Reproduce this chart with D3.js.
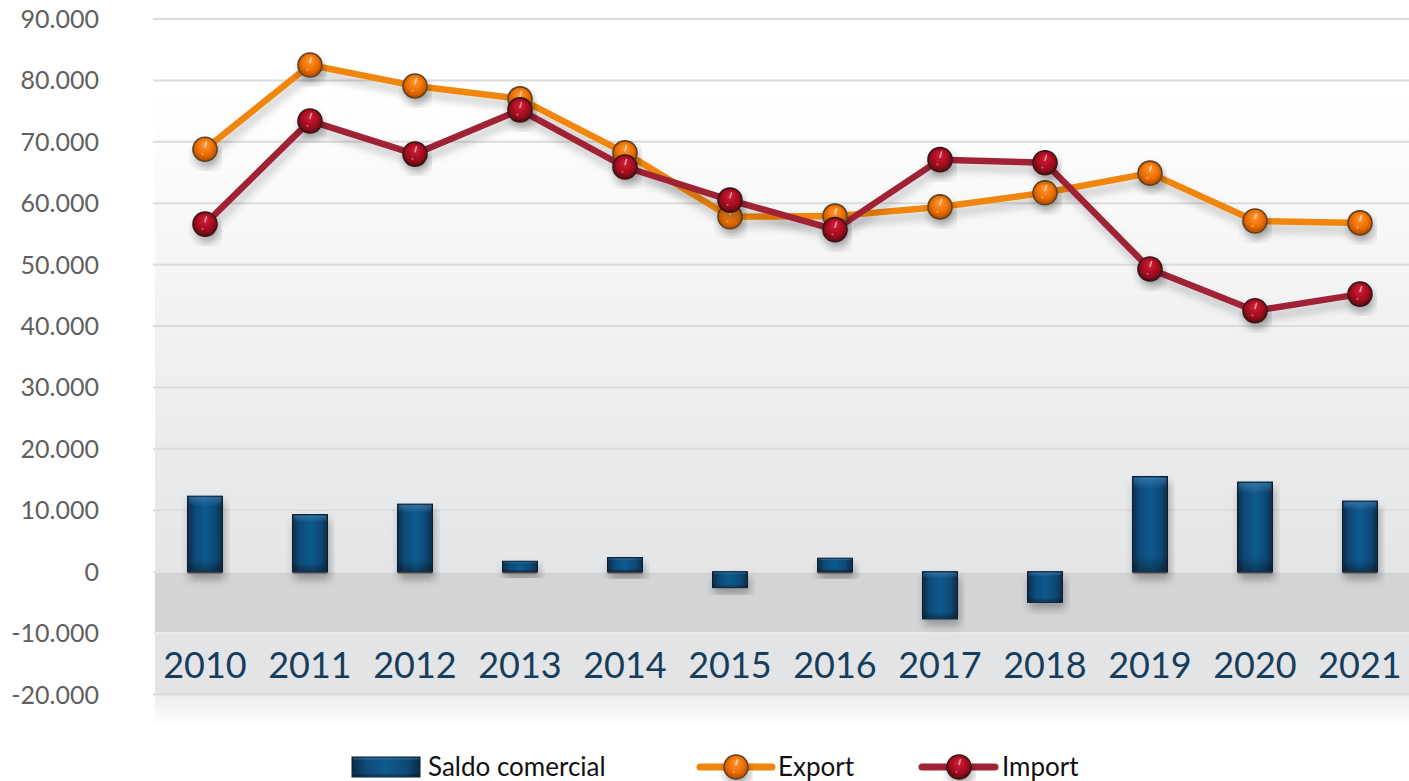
<!DOCTYPE html>
<html>
<head>
<meta charset="utf-8">
<script src="https://cdn.jsdelivr.net/npm/d3@7/dist/d3.min.js"></script>
<style>
  html, body { margin: 0; padding: 0; background: #ffffff; }
  svg { display: block; }
</style>
</head>
<body>
<div id="chart"></div>
<script>
// --- data ---
const years = ["2010", "2011", "2012", "2013", "2014", "2015", "2016", "2017", "2018", "2019", "2020", "2021"];
const exportValues = [68800, 82500, 79100, 77000, 68200, 57800, 57900, 59400, 61700, 64900, 57100, 56800];
const importValues = [56600, 73400, 68000, 75200, 65900, 60500, 55700, 67100, 66600, 49300, 42500, 45200];
const saldoValues = [12300, 9300, 11000, 1700, 2300, -2600, 2200, -7700, -5000, 15500, 14600, 11500];
const yTicks = [-20000, -10000, 0, 10000, 20000, 30000, 40000, 50000, 60000, 70000, 80000, 90000];

const width = 1409, height = 781;
const panelLeft = 155, panelRight = 1409;

const svg = d3.select("#chart").append("svg")
  .attr("width", width)
  .attr("height", height);

const defs = svg.append("defs");

// scales
const x = d3.scaleBand().domain(years).range([152.5, 1412.5]);
const y = d3.scaleLinear().domain([-20000, 90000]).range([694.5, 19]);

const it = d3.formatLocale({ decimal: ",", thousands: ".", grouping: [3], currency: ["", ""], minus: "-" });
const fmt = it.format(",d");

// --- gradients / filters ---
const panelGrad = defs.append("linearGradient").attr("id", "panel-grad")
  .attr("x1", 0).attr("y1", 0).attr("x2", 0).attr("y2", 1);
panelGrad.append("stop").attr("offset", "0%").attr("stop-color", "#ffffff");
panelGrad.append("stop").attr("offset", "45%").attr("stop-color", "#f1f2f3");
panelGrad.append("stop").attr("offset", "100%").attr("stop-color", "#e4e5e7");

const fadeGrad = defs.append("linearGradient").attr("id", "fade-grad")
  .attr("x1", 0).attr("y1", 0).attr("x2", 0).attr("y2", 1);
fadeGrad.append("stop").attr("offset", "0%").attr("stop-color", "#ececed");
fadeGrad.append("stop").attr("offset", "100%").attr("stop-color", "#ffffff");

const barGrad = defs.append("linearGradient").attr("id", "bar-grad")
  .attr("x1", 0).attr("y1", 0).attr("x2", 1).attr("y2", 0);
barGrad.append("stop").attr("offset", "0%").attr("stop-color", "#0b2b47");
barGrad.append("stop").attr("offset", "20%").attr("stop-color", "#0e4a78");
barGrad.append("stop").attr("offset", "50%").attr("stop-color", "#115a8e");
barGrad.append("stop").attr("offset", "80%").attr("stop-color", "#0e4a78");
barGrad.append("stop").attr("offset", "100%").attr("stop-color", "#0b2b47");

const barShade = defs.append("linearGradient").attr("id", "bar-shade")
  .attr("x1", 0).attr("y1", 0).attr("x2", 0).attr("y2", 1);
barShade.append("stop").attr("offset", "0%").attr("stop-color", "#4a8cc0").attr("stop-opacity", 0.55);
barShade.append("stop").attr("offset", "12%").attr("stop-color", "#4a8cc0").attr("stop-opacity", 0);
barShade.append("stop").attr("offset", "85%").attr("stop-color", "#000000").attr("stop-opacity", 0);
barShade.append("stop").attr("offset", "100%").attr("stop-color", "#000000").attr("stop-opacity", 0.35);

function ballGradient(id, light, mid, dark) {
  const g = defs.append("radialGradient").attr("id", id)
    .attr("cx", "50%").attr("cy", "45%").attr("r", "58%").attr("fx", "50%").attr("fy", "30%");
  g.append("stop").attr("offset", "0%").attr("stop-color", light);
  g.append("stop").attr("offset", "60%").attr("stop-color", mid);
  g.append("stop").attr("offset", "100%").attr("stop-color", dark);
}
ballGradient("ball-orange", "#ff9a3a", "#ec6e00", "#a84600");
ballGradient("ball-red", "#d42238", "#a50a20", "#55050f");

const shadow = defs.append("filter").attr("id", "drop")
  .attr("x", "-20%").attr("y", "-20%").attr("width", "140%").attr("height", "160%");
shadow.append("feDropShadow").attr("dx", 2).attr("dy", 6).attr("stdDeviation", 4)
  .attr("flood-color", "#000000").attr("flood-opacity", 0.3);

const lineShadow = defs.append("filter").attr("id", "line-drop")
  .attr("x", "-5%").attr("y", "-20%").attr("width", "110%").attr("height", "140%");
lineShadow.append("feDropShadow").attr("dx", 2).attr("dy", 7).attr("stdDeviation", 4)
  .attr("flood-color", "#000000").attr("flood-opacity", 0.22);

// --- background panel ---
svg.append("rect")
  .attr("x", panelLeft).attr("y", 100)
  .attr("width", panelRight - panelLeft).attr("height", y(0) - 100)
  .attr("fill", "url(#panel-grad)");
svg.append("rect")
  .attr("x", panelLeft).attr("y", y(0))
  .attr("width", panelRight - panelLeft).attr("height", y(-10000) - y(0))
  .attr("fill", "#d3d4d6");
svg.append("rect")
  .attr("x", panelLeft).attr("y", y(-10000))
  .attr("width", panelRight - panelLeft).attr("height", y(-20000) - y(-10000))
  .attr("fill", "#e3e4e6");
svg.append("rect")
  .attr("x", panelLeft).attr("y", y(-20000))
  .attr("width", panelRight - panelLeft).attr("height", 32)
  .attr("fill", "url(#fade-grad)");

// --- gridlines + y labels ---
svg.append("g").selectAll("line").data(yTicks).join("line")
  .attr("x1", 153).attr("x2", panelRight)
  .attr("y1", d => y(d)).attr("y2", d => y(d))
  .attr("stroke", d => d === -10000 ? "#e9eaeb" : (d === 0 ? "#e2e3e4" : "#dcdcdd"))
  .attr("stroke-width", 2);

svg.append("g").selectAll("text").data(yTicks).join("text")
  .attr("x", 99)
  .attr("y", d => y(d))
  .attr("dy", "0.36em")
  .attr("text-anchor", "end")
  .style("font-family", "Lato, sans-serif")
  .style("font-size", "25px")
  .style("fill", "#606060")
  .text(d => fmt(d));

// --- category labels ---
svg.append("g").selectAll("text").data(years).join("text")
  .attr("x", d => x(d) + x.bandwidth() / 2)
  .attr("y", 678)
  .attr("text-anchor", "middle")
  .style("font-family", "Lato, sans-serif")
  .style("font-size", "36px")
  .style("fill", "#163e5c")
  .text(d => d);

// --- bars (saldo comercial) ---
const barW = 35;
const bars = svg.append("g");
years.forEach((yr, i) => {
  const v = saldoValues[i];
  const bx = x(yr) + x.bandwidth() / 2 - barW / 2;
  const by = Math.min(y(v), y(0));
  const bh = Math.abs(y(v) - y(0));
  const g = bars.append("g").attr("filter", "url(#drop)");
  g.append("rect").attr("x", bx).attr("y", by).attr("width", barW).attr("height", bh)
    .attr("fill", "url(#bar-grad)").attr("stroke", "#0a1e30").attr("stroke-width", 1);
  g.append("rect").attr("x", bx + 1).attr("y", by + 1).attr("width", barW - 2).attr("height", Math.max(bh - 2, 0))
    .attr("fill", "url(#bar-shade)");
  if (v > 0) {
    g.append("line").attr("x1", bx).attr("x2", bx + barW)
      .attr("y1", y(0) + 1).attr("y2", y(0) + 1)
      .attr("stroke", "#444").attr("stroke-width", 1.5);
  }
});

// --- lines ---
const line = d3.line()
  .x((d, i) => x(years[i]) + x.bandwidth() / 2)
  .y(d => y(d));

svg.append("path").datum(exportValues)
  .attr("d", line)
  .attr("fill", "none").attr("stroke", "#f0860e").attr("stroke-width", 6.5)
  .attr("stroke-linejoin", "round")
  .attr("filter", "url(#line-drop)");

svg.append("path").datum(importValues)
  .attr("d", line)
  .attr("fill", "none").attr("stroke", "#9f2236").attr("stroke-width", 6.5)
  .attr("stroke-linejoin", "round")
  .attr("filter", "url(#line-drop)");

// marker helper
function drawBall(parent, cx, cy, r, grad, border) {
  const g = parent.append("g").attr("filter", "url(#drop)");
  g.append("circle").attr("cx", cx).attr("cy", cy).attr("r", r)
    .attr("fill", "url(#" + grad + ")").attr("stroke", border).attr("stroke-width", 1.6);
  // specular glint
  g.append("path")
    .attr("d", `M ${cx + 1.5} ${cy - r * 0.62} L ${cx} ${cy - r * 0.2}`)
    .attr("stroke", "#ffffff").attr("stroke-opacity", 0.55).attr("stroke-width", 1.6)
    .attr("stroke-linecap", "round");
  g.append("circle").attr("cx", cx - 2.5).attr("cy", cy + r * 0.4).attr("r", 1.1)
    .attr("fill", "#ffffff").attr("fill-opacity", 0.35);
  return g;
}

const markers = svg.append("g");
exportValues.forEach((v, i) => {
  drawBall(markers, x(years[i]) + x.bandwidth() / 2, y(v), 12, "ball-orange", "#5e4220");
});
importValues.forEach((v, i) => {
  drawBall(markers, x(years[i]) + x.bandwidth() / 2, y(v), 12, "ball-red", "#3a1518");
});

// --- legend ---
const legend = svg.append("g");
const ly = 767;
legend.append("rect").attr("x", 352).attr("y", ly - 10).attr("width", 68).attr("height", 20)
  .attr("fill", "url(#bar-grad)").attr("stroke", "#0a1e30").attr("stroke-width", 1);
legend.append("rect").attr("x", 353).attr("y", ly - 9).attr("width", 66).attr("height", 18)
  .attr("fill", "url(#bar-shade)");
legend.append("text").attr("x", 428).attr("y", ly + 9)
  .style("font-family", "Lato, sans-serif").style("font-size", "26px").style("fill", "#111")
  .text("Saldo comercial");

legend.append("line").attr("x1", 700).attr("x2", 772).attr("y1", ly).attr("y2", ly)
  .attr("stroke", "#f0860e").attr("stroke-width", 7).attr("stroke-linecap", "round");
drawBall(legend, 736, ly, 12, "ball-orange", "#5e4220");
legend.append("text").attr("x", 778).attr("y", ly + 9)
  .style("font-family", "Lato, sans-serif").style("font-size", "26px").style("fill", "#111")
  .text("Export");

legend.append("line").attr("x1", 922).attr("x2", 995).attr("y1", ly).attr("y2", ly)
  .attr("stroke", "#9f2236").attr("stroke-width", 7).attr("stroke-linecap", "round");
drawBall(legend, 959, ly, 12, "ball-red", "#3a1518");
legend.append("text").attr("x", 1002).attr("y", ly + 9)
  .style("font-family", "Lato, sans-serif").style("font-size", "26px").style("fill", "#111")
  .text("Import");
</script>
</body>
</html>
